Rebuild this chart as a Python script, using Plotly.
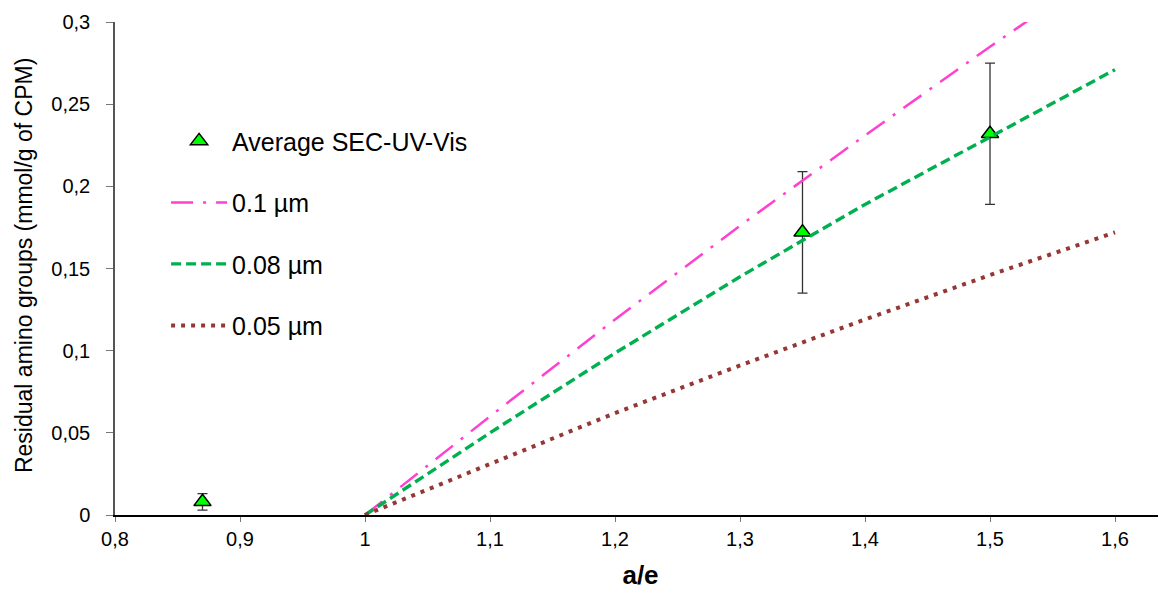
import plotly.graph_objects as go

pts_x = [0.87, 1.35, 1.5]
pts_y = [0.008, 0.172, 0.232]
pts_err = [0.005, 0.037, 0.043]

curve_x = [1.0, 1.1, 1.2, 1.3, 1.4, 1.5, 1.6]
y_01 = [0.0, 0.060, 0.119, 0.176, 0.231, 0.285, 0.337]
y_008 = [0.0, 0.050, 0.0985, 0.145, 0.189, 0.230, 0.271]
y_005 = [0.0, 0.031, 0.062, 0.091, 0.119, 0.146, 0.172]

x_ticks = [0.8, 0.9, 1.0, 1.1, 1.2, 1.3, 1.4, 1.5, 1.6]
x_ticklabels = ["0,8", "0,9", "1", "1,1", "1,2", "1,3", "1,4", "1,5", "1,6"]
y_ticks = [0, 0.05, 0.1, 0.15, 0.2, 0.25, 0.3]
y_ticklabels = ["0", "0,05", "0,1", "0,15", "0,2", "0,25", "0,3"]
y_title = "Residual amino groups (mmol/g of CPM)"

FONT = "Liberation Sans, Arial, sans-serif"

fig = go.Figure()
fig.add_trace(go.Scatter(
    x=pts_x, y=pts_y, mode="markers", name="Average SEC-UV-Vis",
    legendgroup="a",
    marker=dict(symbol="triangle-up", size=15, color="#00FF00",
                line=dict(color="black", width=1.5)),
    error_y=dict(type="data", array=pts_err, color="#333333", thickness=1.3, width=5),
))
fig.add_trace(go.Scatter(
    x=curve_x, y=y_01, mode="lines", name="0.1 µm", legendgroup="b",
    line=dict(color="#FF40D0", width=2.5, dash="22px,10px,3px,10px"),
))
fig.add_trace(go.Scatter(
    x=curve_x, y=y_008, mode="lines", name="0.08 µm", legendgroup="c",
    line=dict(color="#00B050", width=3.4, dash="10px,5px"),
))
fig.add_trace(go.Scatter(
    x=curve_x, y=y_005, mode="lines", name="0.05 µm", legendgroup="d",
    line=dict(color="#953735", width=4, dash="4px,6px"),
))

# The page has an 8px body margin, so the figure is sized/offset to compensate.
fig.update_layout(
    width=1158, height=582,
    paper_bgcolor="white", plot_bgcolor="white",
    margin=dict(l=107, r=0, t=14, b=75),
    font=dict(family=FONT, size=20, color="black"),
    showlegend=True,
    legend=dict(x=0.0486, y=0.805, xanchor="left", yanchor="top",
                font=dict(size=25), itemwidth=56, tracegroupgap=26,
                bgcolor="rgba(0,0,0,0)"),
    xaxis=dict(range=[0.8, 1.6408], tickvals=x_ticks, ticktext=x_ticklabels,
               showgrid=False, zeroline=False, showline=True, linecolor="black",
               linewidth=1.5, ticks="outside", ticklen=5, tickcolor="#777",
               automargin=False,
               title=dict(text="<b>a/e</b>", font=dict(size=26), standoff=21)),
    yaxis=dict(range=[0, 0.3], tickvals=y_ticks, ticktext=y_ticklabels,
               showgrid=False, zeroline=False, showline=True, linecolor="#555",
               linewidth=1.5, ticks="outside", ticklen=7, tickcolor="#777",
               ticklabelstandoff=12, automargin=False),
    annotations=[dict(text=y_title, textangle=-90, xref="paper", yref="paper",
                      x=-0.0866, y=0.507, xanchor="center", yanchor="middle",
                      showarrow=False, font=dict(size=23))],
)
fig.write_html("out.html")
